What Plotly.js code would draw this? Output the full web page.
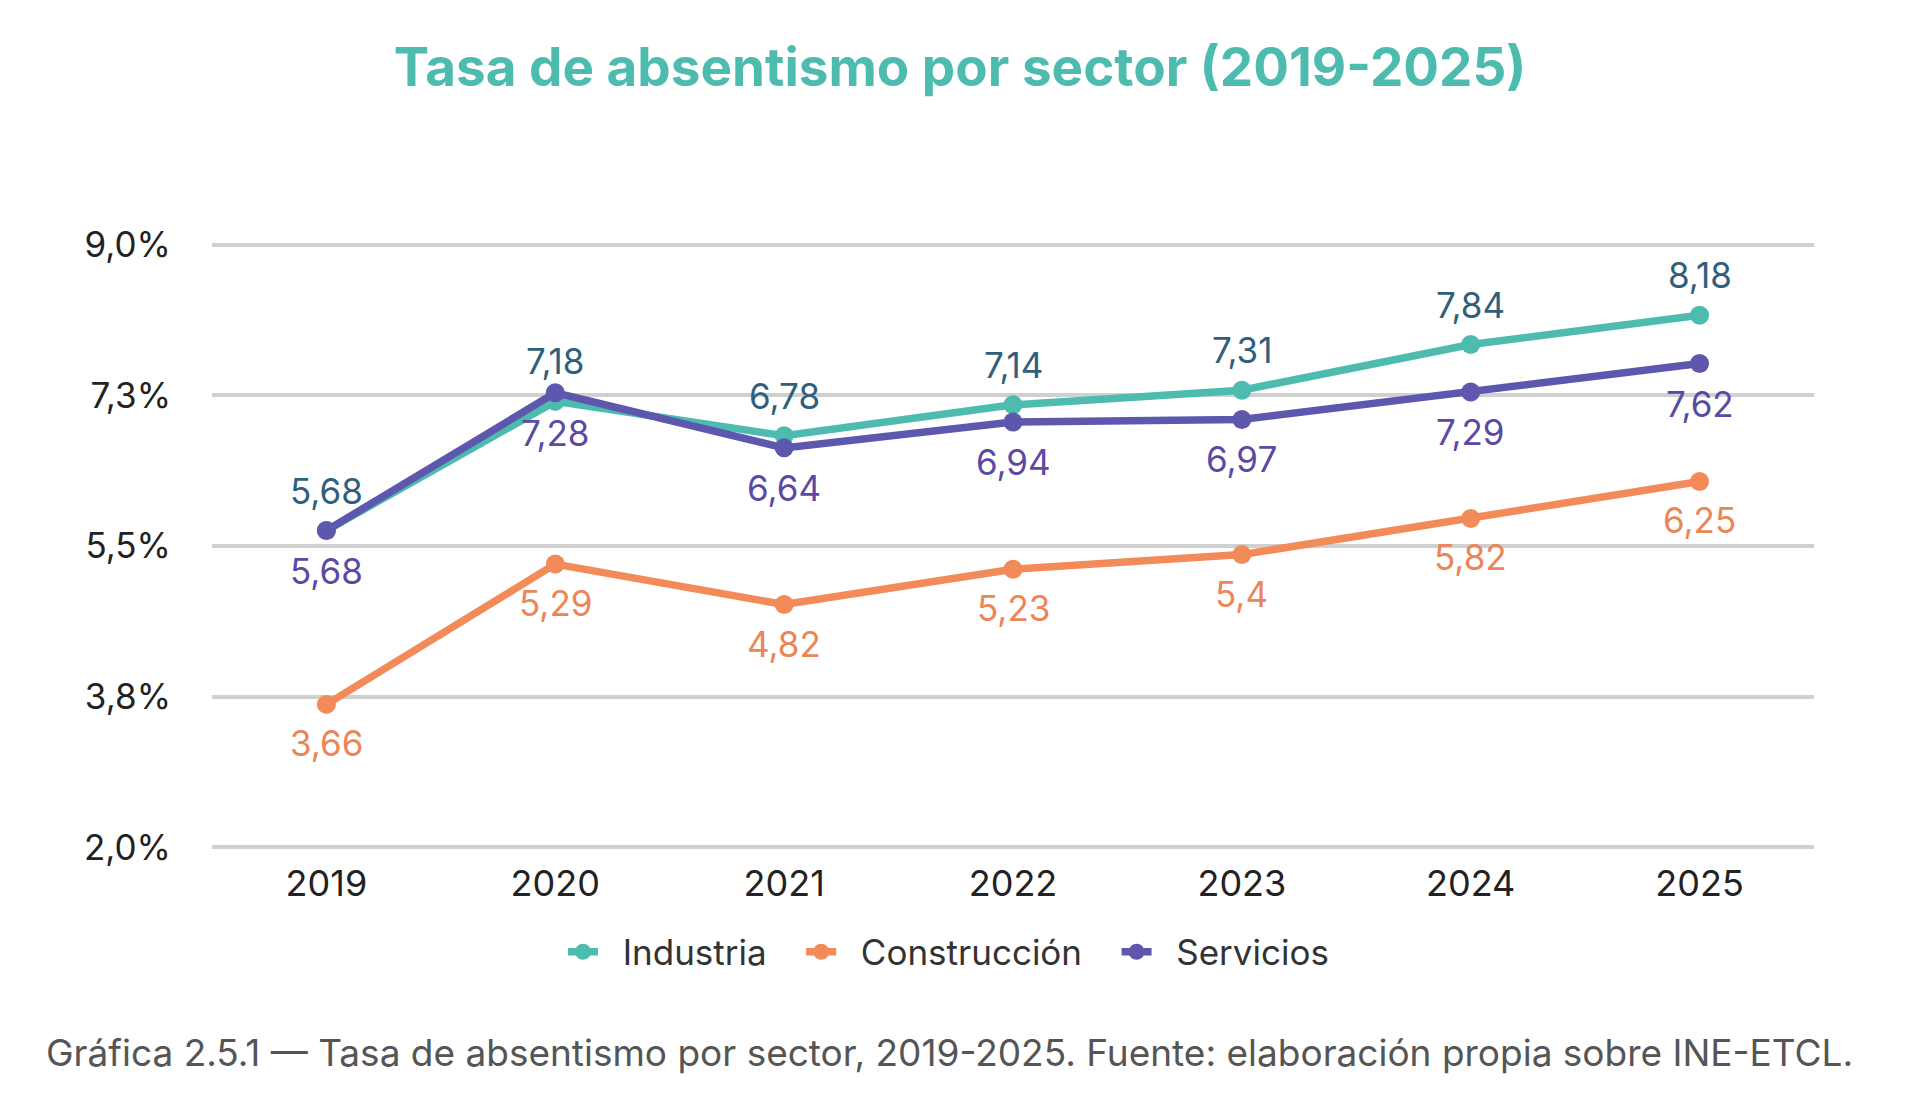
<!DOCTYPE html>
<html>
<head>
<meta charset="utf-8">
<script src="https://cdn.plot.ly/plotly-3.0.1.min.js"></script>
<style>
  html, body { margin: 0; padding: 0; background: #ffffff; }
  #chart { width: 1920px; height: 1115px; }
</style>
</head>
<body>
<div id="chart"></div>
<script>
// Data
const years = ['2019', '2020', '2021', '2022', '2023', '2024', '2025'];
const industria = [5.68, 7.18, 6.78, 7.14, 7.31, 7.84, 8.18];
const construccion = [3.66, 5.29, 4.82, 5.23, 5.4, 5.82, 6.25];
const servicios = [5.68, 7.28, 6.64, 6.94, 6.97, 7.29, 7.62];
const yTicks = [2.0, 3.75, 5.5, 7.25, 9.0];
const yTickText = ['2,0%', '3,8%', '5,5%', '7,3%', '9,0%'];

const FONT = 'Inter, "Open Sans", sans-serif';
const colors = {
    industria: '#4dbcaf',
    construccion: '#f38a59',
    servicios: '#5d58ad'
};
const labelColors = {
    industria: '#2f5f7c',
    construccion: '#ec8557',
    servicios: '#5a4aa3'
};

// plot area in px (for placing the caption in paper units)
const plotL = 212, plotR = 1814, plotT = 243, plotB = 849;
const NB = '\u00a0';

function fmt(v) {
    return String(v).replace('.', ',');
}

function series(name, values, color) {
    return {
        x: years,
        y: values,
        name: name,
        type: 'scatter',
        mode: 'lines+markers',
        line: { color: color, width: 7.5 },
        marker: { color: color, size: 19 },
        cliponaxis: false
    };
}

// Value labels above (Industria) or below (others) each point
function labels(values, color, shift) {
    return values.map((v, i) => ({
        x: i,
        y: v,
        xref: 'x',
        yref: 'y',
        text: fmt(v),
        showarrow: false,
        yshift: shift,
        font: { family: FONT, size: 35, color: color }
    }));
}

const traces = [
    series(NB + NB + 'Industria' + NB + NB + NB, industria, colors.industria),
    series(NB + NB + 'Construcción' + NB + NB + NB, construccion, colors.construccion),
    series(NB + NB + 'Servicios', servicios, colors.servicios)
];

const annotations = [
    ...labels(industria, labelColors.industria, 40),
    ...labels(servicios, labelColors.servicios, -40),
    ...labels(construccion, labelColors.construccion, -39),
    {
        xref: 'paper', yref: 'paper',
        x: (44 - plotL) / (plotR - plotL),
        y: -(1052 - plotB) / (plotB - plotT),
        xanchor: 'left', yanchor: 'middle',
        text: 'Gráfica 2.5.1 — Tasa de absentismo por sector, 2019-2025. Fuente: elaboración propia sobre INE-ETCL.',
        showarrow: false,
        font: { family: FONT, size: 37, color: '#555555' }
    }
];

const layout = {
    width: 1920,
    height: 1115,
    paper_bgcolor: '#ffffff',
    plot_bgcolor: '#ffffff',
    margin: { l: plotL, r: 1920 - plotR, t: plotT, b: 1115 - plotB },
    title: {
        text: '<b>Tasa de absentismo por sector (2019-2025)</b>',
        font: { family: FONT, size: 53, color: '#4dbcaf' },
        x: 0.5,
        xanchor: 'center',
        y: 1 - 67 / 1115,
        yanchor: 'middle'
    },
    xaxis: {
        type: 'category',
        range: [-0.5, 6.5],
        showgrid: false,
        zeroline: false,
        showline: false,
        ticks: '',
        ticklabelstandoff: 10,
        tickfont: { family: FONT, size: 36, color: '#222222' }
    },
    yaxis: {
        range: [1.98, 9.02],
        tickvals: yTicks,
        ticktext: yTickText,
        showgrid: true,
        gridcolor: '#d0d0d0',
        gridwidth: 4,
        zeroline: false,
        showline: false,
        ticks: '',
        ticklabelstandoff: 40,
        tickfont: { family: FONT, size: 35, color: '#222222' }
    },
    showlegend: true,
    legend: {
        orientation: 'h',
        xref: 'container',
        yref: 'container',
        x: 0.494,
        xanchor: 'center',
        y: 1 - 952 / 1115,
        yanchor: 'middle',
        font: { family: FONT, size: 35, color: '#333333' },
        itemwidth: 30,
        tracegroupgap: 0
    },
    annotations: annotations
};

Plotly.newPlot('chart', traces, layout, { displayModeBar: false, staticPlot: true });
</script>
</body>
</html>
